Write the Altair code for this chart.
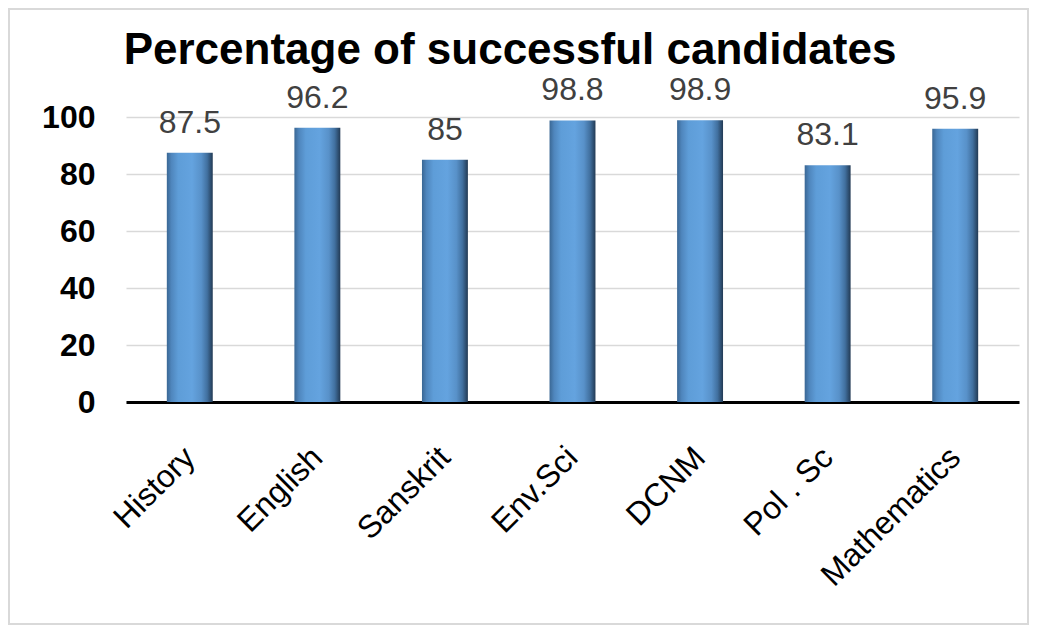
import altair as alt
import pandas as pd

subjects = ["History", "English", "Sanskrit", "Env.Sci", "DCNM", "Pol . Sc", "Mathematics"]
values = [87.5, 96.2, 85, 98.8, 98.9, 83.1, 95.9]
labels = ["87.5", "96.2", "85", "98.8", "98.9", "83.1", "95.9"]
y_ticks = [0, 20, 40, 60, 80, 100]
title_text = "Percentage of successful candidates"

df = pd.DataFrame({"subject": subjects, "value": values, "label": labels})

W, H = 893, 285
FONT = "Liberation Sans"

x_enc = alt.X("subject:N", sort=subjects, title=None,
              scale=alt.Scale(paddingInner=0.64, paddingOuter=0.32),
              axis=alt.Axis(labelAngle=-45, labelAlign="right", labelBaseline="middle",
                            labelFontSize=32, labelFont=FONT, labelColor="#000000",
                            labelPadding=50, ticks=False, domain=True,
                            domainColor="#000000", domainWidth=3, labelLimit=300))
y_scale = alt.Scale(domain=[0, 100], nice=False)

grad = alt.Gradient(
    gradient="linear", x1=0, x2=1, y1=0, y2=0,
    stops=[
        alt.GradientStop(color="#3a6794", offset=0),
        alt.GradientStop(color="#4f86bd", offset=0.1),
        alt.GradientStop(color="#5e9dd8", offset=0.25),
        alt.GradientStop(color="#64a3df", offset=0.55),
        alt.GradientStop(color="#5891c9", offset=0.75),
        alt.GradientStop(color="#41709f", offset=0.88),
        alt.GradientStop(color="#223a54", offset=1),
    ],
)

base = alt.Chart(df)

bars = base.mark_bar(color=grad).encode(
    x=x_enc,
    y=alt.Y("value:Q", scale=y_scale, title=None,
            axis=alt.Axis(values=y_ticks, labelFontSize=32, labelFont=FONT,
                          labelFontWeight="bold", labelColor="#000000",
                          labelPadding=31, ticks=False, domain=False,
                          grid=True, gridColor="#d9d9d9", gridWidth=1.5)),
)

text = base.mark_text(fontSize=32, font=FONT, color="#404040", dy=-20,
                      baseline="alphabetic").encode(
    x=alt.X("subject:N", sort=subjects),
    y=alt.Y("value:Q", scale=y_scale),
    text="label:N",
)

border = base.mark_rect(fill=None, stroke="#d9d9d9", strokeWidth=2).encode(
    x=alt.value(-117),
    x2=alt.value(902),
    y=alt.value(-108),
    y2=alt.value(507),
)

title = alt.Chart(pd.DataFrame({"t": [title_text]})).mark_text(
    fontSize=44, font=FONT, fontWeight="bold", color="#000000",
    align="center", baseline="alphabetic",
).encode(x=alt.value(384), y=alt.value(-53), text="t:N")

chart = alt.layer(border, bars, text, title).properties(
    width=W, height=H,
    autosize=alt.AutoSizeParams(type="none"),
    padding={"left": 118, "top": 109, "right": 10, "bottom": 223},
).configure_view(stroke=None)

chart.save("out.html", embed_options={"renderer": "svg", "actions": False})
